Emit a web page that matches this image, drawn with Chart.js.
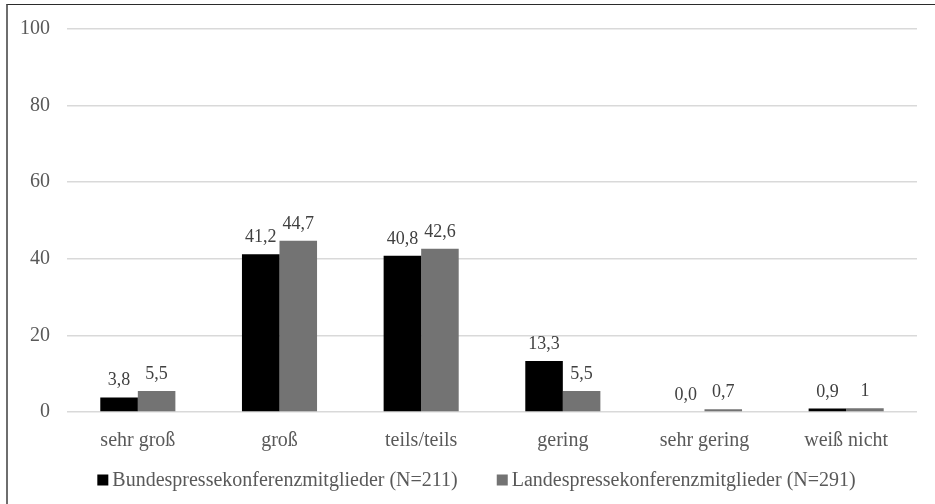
<!DOCTYPE html>
<html>
<head>
<meta charset="utf-8">
<script src="https://cdn.jsdelivr.net/npm/chart.js@4.4.1/dist/chart.umd.min.js"></script>
<style>
  html, body { margin: 0; padding: 0; background: #fff; }
  #wrap { position: relative; width: 935px; height: 504px; overflow: hidden; }
  canvas { display: block; }
  #frame {
    position: absolute; left: 6px; top: 4px; right: -4px; bottom: -4px;
    border-top: 1.5px solid #2b2b2b; border-left: 2px solid #6e6e6e;
    pointer-events: none;
  }
</style>
</head>
<body>
<div id="wrap">
  <canvas id="chart" width="935" height="504"></canvas>
  <div id="frame"></div>
</div>
<script>
// Categories and survey shares (percent)
const categories = ['sehr groß', 'groß', 'teils/teils', 'gering', 'sehr gering', 'weiß nicht'];
const bundesValues = [3.8, 41.2, 40.8, 13.3, 0.0, 0.9];
const landesValues = [5.5, 44.7, 42.6, 5.5, 0.7, 1];
// Number of decimals printed for each value label
const bundesDecimals = [1, 1, 1, 1, 1, 1];
const landesDecimals = [1, 1, 1, 1, 1, 0];
const seriesNames = [
  'Bundespressekonferenzmitglieder (N=211)',
  'Landespressekonferenzmitglieder (N=291)'
];
const yTicks = [0, 20, 40, 60, 80, 100];

const FONT = "'Liberation Serif', 'Times New Roman', serif";

// Value labels above each bar, German decimal comma
const valueLabels = {
  id: 'valueLabels',
  afterDatasetsDraw(chart) {
    const ctx = chart.ctx;
    ctx.save();
    ctx.font = '18px ' + FONT;
    ctx.fillStyle = '#404040';
    ctx.textAlign = 'center';
    ctx.textBaseline = 'alphabetic';
    chart.data.datasets.forEach((ds, i) => {
      const meta = chart.getDatasetMeta(i);
      meta.data.forEach((bar, j) => {
        const txt = ds.data[j].toFixed(ds.decimals[j]).replace('.', ',');
        ctx.fillText(txt, bar.x, bar.y - 12);
      });
    });
    ctx.restore();
  }
};

// Single-row legend below the axis
const bottomLegend = {
  id: 'bottomLegend',
  afterDraw(chart) {
    const ctx = chart.ctx;
    ctx.save();
    ctx.font = '20px ' + FONT;
    const box = 11, gapText = 4, gapItem = 39, centerX = 476.5, centerY = 480;
    const items = chart.data.datasets.map(ds => ({
      label: ds.label, color: ds.backgroundColor, w: ctx.measureText(ds.label).width
    }));
    const total = items.reduce((s, it) => s + box + gapText + it.w, 0) + gapItem * (items.length - 1);
    let x = centerX - total / 2;
    ctx.textBaseline = 'middle';
    ctx.textAlign = 'left';
    items.forEach(it => {
      ctx.fillStyle = it.color;
      ctx.fillRect(x, centerY - box / 2, box, box);
      x += box + gapText;
      ctx.fillStyle = '#595959';
      ctx.fillText(it.label, x, centerY + 1);
      x += it.w + gapItem;
    });
    ctx.restore();
  }
};

new Chart(document.getElementById('chart'), {
  type: 'bar',
  data: {
    labels: categories,
    datasets: [
      {
        label: seriesNames[0], data: bundesValues, decimals: bundesDecimals,
        backgroundColor: '#000000', categoryPercentage: 0.53, barPercentage: 1
      },
      {
        label: seriesNames[1], data: landesValues, decimals: landesDecimals,
        backgroundColor: '#737373', categoryPercentage: 0.53, barPercentage: 1
      }
    ]
  },
  options: {
    responsive: false,
    animation: false,
    devicePixelRatio: 1,
    layout: { padding: { left: 0, right: 18, top: 28, bottom: 37 } },
    plugins: { legend: { display: false }, tooltip: { enabled: false } },
    scales: {
      x: {
        grid: { display: false },
        border: { display: false },
        ticks: {
          color: '#595959', font: { family: FONT, size: 20 },
          padding: 9, maxRotation: 0, autoSkip: false
        },
        afterFit: s => { s.height = 55; }
      },
      y: {
        min: 0, max: 100,
        afterBuildTicks: s => { s.ticks = yTicks.map(v => ({ value: v })); },
        grid: { color: '#d9d9d9', lineWidth: 1.5, drawTicks: false },
        border: { display: false },
        ticks: { color: '#595959', font: { family: FONT, size: 20 }, padding: 17 },
        afterFit: s => { s.width = 67; }
      }
    }
  },
  plugins: [valueLabels, bottomLegend]
});
</script>
</body>
</html>
